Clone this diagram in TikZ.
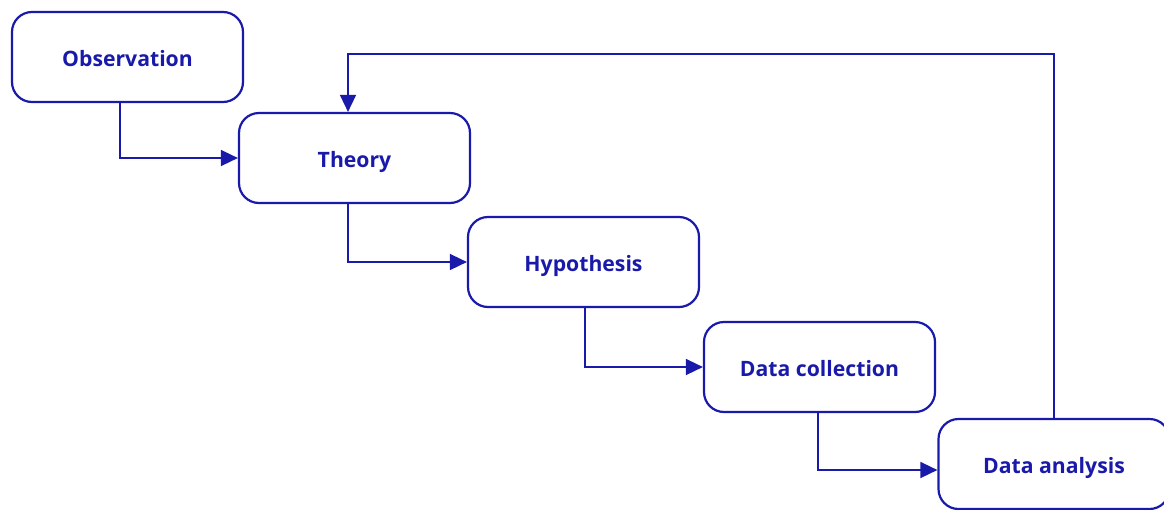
\documentclass[tikz,border=0pt]{standalone}
\usepackage{fontspec}
\setmainfont{Open Sans}
\usetikzlibrary{arrows.meta,calc}
\definecolor{ink}{HTML}{1A1AAA}
\begin{document}
\begin{tikzpicture}[x=1pt,y=-1pt,
  stage/.style={draw=ink, line width=2.2pt, rounded corners=20pt,
    minimum width=231pt, minimum height=90pt, inner sep=0pt,
    text height=19.6pt, text depth=0pt,
    text=ink, font=\bfseries\fontsize{21.2}{25}\selectfont, fill=white},
  link/.style={draw=ink, line width=1.6pt,
    -{Triangle[length=17pt,width=16pt]}}]
\useasboundingbox (0,0) rectangle (1164,509);
\node[stage] (obs) at (127.5,57) {Observation};
\node[stage] (thy) at (354.5,158) {Theory};
\node[stage] (hyp) at (583.5,262) {Hypothesis};
\node[stage] (dc)  at (819.5,367) {Data collection};
\node[stage] (da)  at (1054,464) {Data analysis};
% forward chain
\draw[link] ([xshift=-7.5pt]obs.south) |- (thy.west);
\draw[link] ([xshift=-6.5pt]thy.south) |- (hyp.west);
\draw[link] ([xshift=1.5pt]hyp.south) |- (dc.west);
\draw[link] ([xshift=-1.5pt]dc.south) |- ($(da.west)+(0,6)$);
% feedback loop from analysis back to theory
\coordinate (fb) at (1054,54);
\draw[link] (da.north) -- (fb) -| ([xshift=-6.5pt]thy.north);
\end{tikzpicture}
\end{document}
